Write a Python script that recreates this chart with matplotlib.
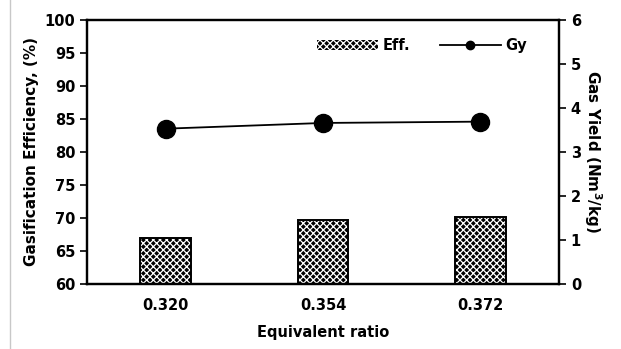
import matplotlib.pyplot as plt
import matplotlib.lines as mlines
import numpy as np

ratio = ['0.320', '0.354', '0.372']
eff = [67.0, 69.7, 70.1]
gy = [3.53, 3.66, 3.69]

plt.rcParams['font.family'] = 'DejaVu Sans'
plt.rcParams['font.weight'] = 'bold'
plt.rcParams['axes.labelweight'] = 'bold'
plt.rcParams['hatch.linewidth'] = 0.9

fig = plt.figure(figsize=(6.21, 3.49), dpi=100)
ax = fig.add_axes([87/621, 1-284/349, (559-87)/621, (284-20)/349])
x = np.arange(len(ratio))

ax.bar(x, np.array(eff) - 60, bottom=60, width=0.32, color='black',
       edgecolor='white', hatch='xxxxx', linewidth=0, label='Eff.')
ax.bar(x, np.array(eff) - 60, bottom=60, width=0.32, color='none',
       edgecolor='black', linewidth=1.4)
ax.set_ylim(60, 100)
ax.set_yticks(range(60, 101, 5))
ax.set_xlim(-0.5, 2.5)
ax.set_xticks(x)
ax.set_xticklabels(ratio)
ax.tick_params(axis='x', length=0, pad=10, labelsize=10.5)
ax.tick_params(axis='y', direction='out', length=5, width=1.2, labelsize=10.5)
ax.set_ylabel('Gasification Efficiency, (%)', fontsize=11, labelpad=4)
ax.set_xlabel('Equivalent ratio', fontsize=10.5, labelpad=9)
for s in ax.spines.values():
    s.set_linewidth(1.6)

ax2 = ax.twinx()
ax2.plot(x, gy, color='black', lw=1.3, marker='o', ms=13, label='Gy')
ax2.set_ylim(0, 6)
ax2.set_yticks(range(0, 7))
ax2.tick_params(axis='y', direction='out', length=5, width=1.2, labelsize=10.5)
ax2.set_ylabel('Gas Yield (Nm$^3$/kg)', fontsize=11, rotation=270, labelpad=16)
for s in ax2.spines.values():
    s.set_linewidth(1.6)

h1, l1 = ax.get_legend_handles_labels()
h2 = [mlines.Line2D([], [], color='black', lw=1.3, marker='o', ms=6)]
ax2.legend(h1 + h2, l1 + ['Gy'], loc='upper left', bbox_to_anchor=(0.46, 0.98),
           ncol=2, frameon=False, fontsize=10.5, handlelength=4.2,
           columnspacing=2.0, handletextpad=0.3)

fig.add_artist(mlines.Line2D([10/621, 10/621], [0, 1], color='#c8c8c8', lw=1))

fig.savefig('out.png', dpi=100)
